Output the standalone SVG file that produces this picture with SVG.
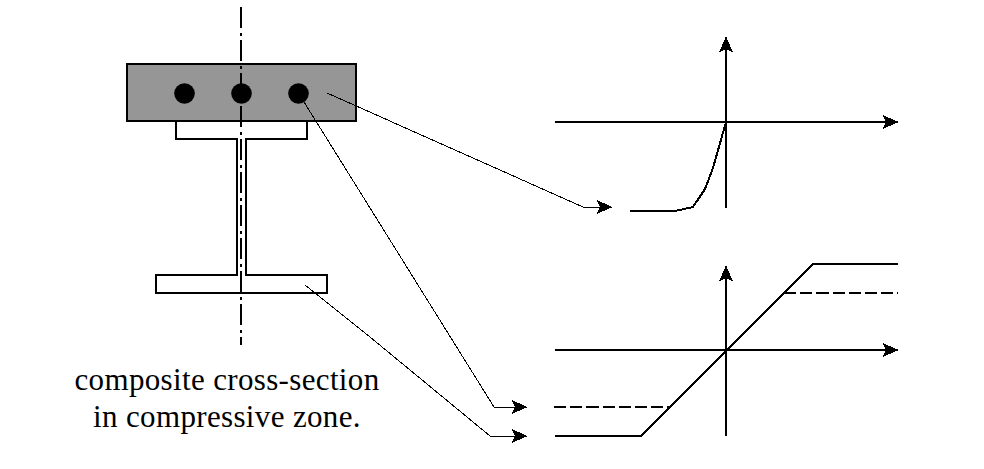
<svg xmlns="http://www.w3.org/2000/svg" width="984" height="469" viewBox="0 0 984 469">
<style>
path,rect.s{shape-rendering:crispEdges}
.o{fill:none;stroke:#000;stroke-width:2}
.t{fill:none;stroke:#000;stroke-width:1}
.d{fill:none;stroke:#000;stroke-width:2;stroke-dasharray:12.200 4}
.c{fill:none;stroke:#000;stroke-width:2;stroke-dasharray:21 5 3 4}
text{font-family:"Liberation Serif",serif;font-size:31px;letter-spacing:.35px;fill:#000;text-anchor:middle}
</style>
<defs>
<marker id="a" markerUnits="userSpaceOnUse" markerWidth="18" markerHeight="18" refX="16" refY="9" orient="auto"><path d="M0 1.500L16 9L0 16.500L4 9Z" fill="#000"/></marker>
</defs>
<rect width="984" height="469" fill="#fff"/>
<g id="section">
<path class="o" d="M176 121V139H237V275H156V293H327V275H246V139H307V121"/>
<rect id="slab" class="s" x="127" y="64" width="229" height="57" fill="#969696" stroke="#000" stroke-width="2"/>
<circle cx="184.500" cy="93.500" r="10.300" fill="#000"/>
<circle cx="241.500" cy="93.500" r="10.300" fill="#000"/>
<circle cx="298.500" cy="93.500" r="10.300" fill="#000"/>
<path class="c" d="M241 7V345"/>
</g>
<g id="connectors">
<path class="t" d="M327 93L583 207H612" marker-end="url(#a)"/>
<path class="t" d="M304 102L494 407H527" marker-end="url(#a)"/>
<path class="t" d="M305 285L370 337L490 436H527" marker-end="url(#a)"/>
</g>
<g id="chart-top">
<path class="o" d="M555 122H898" marker-end="url(#a)"/>
<path class="o" d="M726 208V37" marker-end="url(#a)"/>
<path class="o" d="M630 211H675L693 207L705 189L713 168L726 122"/>
</g>
<g id="chart-bottom">
<path class="o" d="M555 350H898" marker-end="url(#a)"/>
<path class="o" d="M726 436V266" marker-end="url(#a)"/>
<path class="o" d="M555 436H641L813 264H898"/>
<path class="d" d="M784 293H898"/>
<path class="d" d="M554 407H671"/>
</g>
<g id="caption">
<text x="227" y="390">composite cross-section</text>
<text x="227" y="427">in compressive zone.</text>
</g>
</svg>
